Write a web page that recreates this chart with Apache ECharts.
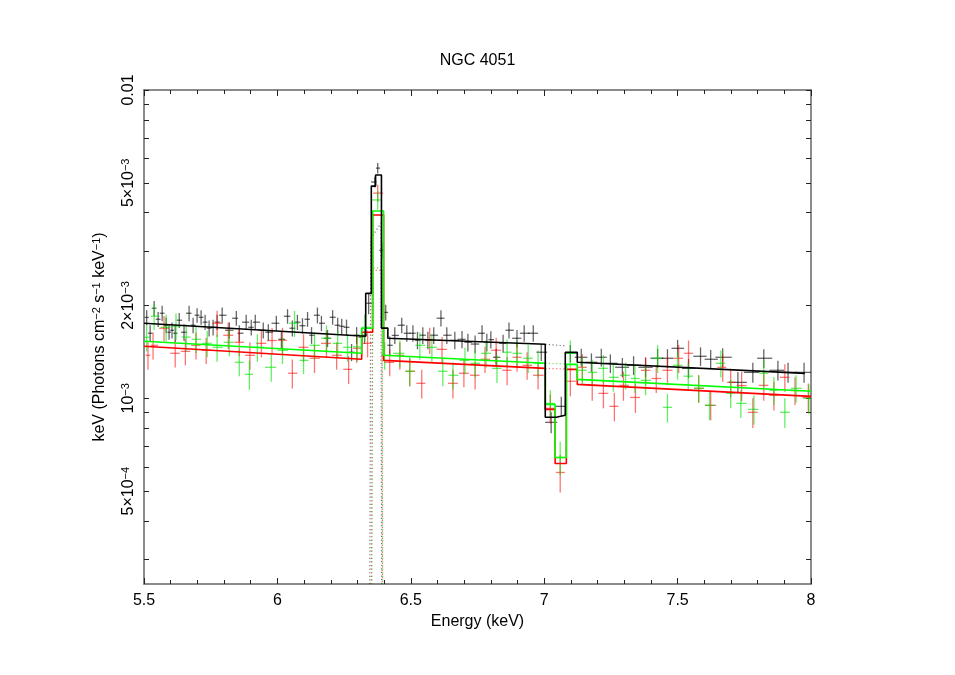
<!DOCTYPE html>
<html>
<head>
<meta charset="utf-8">
<title>NGC 4051</title>
<script src="https://cdn.jsdelivr.net/npm/echarts@6/dist/echarts.min.js"></script>
<style>
  html, body { margin: 0; padding: 0; background: #fff; }
  #chart { width: 955px; height: 675px; }
</style>
</head>
<body>
<div id="chart"></div>
<script>
// all fluxes in units of 1e-3 keV (Photons cm^-2 s^-1 keV^-1), energies in keV

// black spectrum (data points)
const blackE = [5.51, 5.523, 5.538, 5.553, 5.568, 5.583, 5.594, 5.605, 5.617, 5.632,
  5.650, 5.669, 5.684, 5.699, 5.714, 5.729, 5.744, 5.759, 5.774, 5.793,
  5.820, 5.846, 5.857, 5.883, 5.902, 5.917, 5.947, 5.966, 5.996, 6.015,
  6.038, 6.056, 6.075, 6.094, 6.113, 6.128, 6.150, 6.165, 6.188, 6.207,
  6.226, 6.241, 6.259, 6.278, 6.297, 6.316, 6.327, 6.342, 6.365, 6.376,
  6.391, 6.406, 6.421, 6.440, 6.466, 6.485, 6.508, 6.525, 6.545, 6.564,
  6.586, 6.613, 6.635, 6.665, 6.692, 6.714, 6.741, 6.767, 6.785, 6.800,
  6.820, 6.846, 6.868, 6.898, 6.925, 6.959, 6.989, 7.026, 7.064, 7.098,
  7.139, 7.177, 7.214, 7.248, 7.293, 7.335, 7.380, 7.425, 7.462, 7.500,
  7.541, 7.586, 7.624, 7.669, 7.726, 7.782, 7.823, 7.876, 7.914, 7.974];
const blackF = [1.83, 1.626, 1.96, 1.805, 1.888, 1.726, 1.638, 1.663, 1.626, 1.792,
  1.638, 1.888, 1.726, 1.860, 1.832, 1.766, 1.688, 1.700, 1.766, 1.860,
  1.663, 1.819, 1.626, 1.766, 1.700, 1.766, 1.663, 1.638, 1.752, 1.554,
  1.846, 1.688, 1.766, 1.720, 1.805, 1.602, 1.860, 1.752, 1.566, 1.832,
  1.726, 1.713, 1.700, 1.411, 1.602, 1.578, 1.602, 2.034, 5.03, 5.58,
  3.02, 1.90, 1.486, 1.600, 1.726, 1.626, 1.626, 1.543, 1.602, 1.543,
  1.602, 1.819, 1.602, 1.543, 1.554, 1.520, 1.500, 1.626, 1.520, 1.550,
  1.359, 1.508, 1.663, 1.566, 1.626, 1.626, 1.411, 0.836, 0.942, 1.400,
  1.359, 1.309, 1.359, 1.299, 1.261, 1.280, 1.261, 1.349, 1.349, 1.453,
  1.251, 1.369, 1.339, 1.359, 1.127, 1.214, 1.349, 1.233, 1.214, 1.214];
const blackErr = [0.10, 0.10, 0.11, 0.10, 0.11, 0.10, 0.09, 0.10, 0.10, 0.10,
  0.10, 0.11, 0.10, 0.10, 0.10, 0.10, 0.10, 0.10, 0.10, 0.11,
  0.10, 0.10, 0.10, 0.10, 0.10, 0.10, 0.10, 0.10, 0.10, 0.10,
  0.10, 0.10, 0.10, 0.10, 0.10, 0.10, 0.11, 0.10, 0.10, 0.10,
  0.10, 0.10, 0.10, 0.09, 0.10, 0.10, 0.10, 0.16, 0.20, 0.22,
  0.18, 0.11, 0.10, 0.10, 0.10, 0.10, 0.10, 0.10, 0.10, 0.10,
  0.10, 0.11, 0.10, 0.10, 0.10, 0.10, 0.10, 0.10, 0.10, 0.10,
  0.09, 0.10, 0.10, 0.10, 0.10, 0.10, 0.09, 0.065, 0.07, 0.09,
  0.09, 0.09, 0.09, 0.09, 0.09, 0.09, 0.09, 0.095, 0.095, 0.095,
  0.09, 0.095, 0.095, 0.095, 0.09, 0.09, 0.095, 0.09, 0.09, 0.09];

// red spectrum (data points)
const redE = [5.515, 5.534, 5.575, 5.617, 5.655, 5.695, 5.733, 5.774, 5.816, 5.857,
  5.897, 5.940, 5.980, 6.019, 6.056, 6.098, 6.139, 6.184, 6.222, 6.267,
  6.297, 6.338, 6.376, 6.421, 6.459, 6.496, 6.541, 6.571, 6.617, 6.658,
  6.699, 6.741, 6.778, 6.820, 6.861, 6.898, 6.936, 6.977, 7.023, 7.060,
  7.098, 7.143, 7.180, 7.222, 7.263, 7.297, 7.342, 7.380, 7.420, 7.462,
  7.504, 7.541, 7.579, 7.624, 7.669, 7.699, 7.740, 7.782, 7.823, 7.861,
  7.902, 7.940, 7.990];
const redF = [1.379, 1.486, 1.688, 1.400, 1.420, 1.486, 1.432, 1.752, 1.602, 1.520,
  1.379, 1.508, 1.540, 1.543, 1.206, 1.464, 1.349, 1.508, 1.379, 1.242,
  1.453, 1.508, 4.63, 1.309, 1.379, 1.224, 1.119, 1.543, 1.442, 1.119,
  1.206, 1.188, 1.339, 1.432, 1.233, 1.359, 1.280, 1.188, 0.928, 0.575,
  1.136, 1.261, 1.102, 1.038, 0.942, 1.102, 1.007, 1.233, 1.160, 1.233,
  1.349, 1.400, 1.078, 0.949, 1.261, 1.127, 1.100, 0.901, 1.102, 1.023,
  1.170, 1.060, 1.007];
const redErr = [0.14, 0.15, 0.16, 0.14, 0.14, 0.15, 0.14, 0.17, 0.16, 0.15,
  0.14, 0.15, 0.15, 0.15, 0.13, 0.15, 0.14, 0.15, 0.14, 0.13,
  0.15, 0.15, 0.30, 0.13, 0.14, 0.13, 0.12, 0.15, 0.14, 0.12,
  0.12, 0.12, 0.13, 0.14, 0.13, 0.14, 0.13, 0.12, 0.10, 0.08,
  0.12, 0.13, 0.12, 0.11, 0.10, 0.12, 0.11, 0.13, 0.12, 0.13,
  0.14, 0.14, 0.11, 0.10, 0.13, 0.12, 0.12, 0.10, 0.12, 0.11,
  0.12, 0.11, 0.11];

// green spectrum (data points)
const greenE = [5.51, 5.538, 5.583, 5.620, 5.658, 5.695, 5.737, 5.774, 5.820, 5.857,
  5.895, 5.925, 5.977, 6.019, 6.064, 6.098, 6.139, 6.184, 6.226, 6.263,
  6.300, 6.327, 6.376, 6.402, 6.459, 6.496, 6.534, 6.579, 6.620, 6.658,
  6.703, 6.741, 6.782, 6.823, 6.861, 6.898, 6.940, 6.977, 7.023, 7.060,
  7.098, 7.143, 7.180, 7.222, 7.259, 7.305, 7.340, 7.380, 7.425, 7.462,
  7.500, 7.540, 7.579, 7.620, 7.662, 7.699, 7.737, 7.786, 7.823, 7.861,
  7.902, 7.944, 7.992];
const greenF = [1.578, 1.846, 1.700, 1.713, 1.580, 1.554, 1.508, 1.464, 1.520, 1.309,
  1.196, 1.464, 1.261, 1.432, 1.752, 1.328, 1.486, 1.566, 1.508, 1.464,
  1.470, 1.700, 4.40, 1.379, 1.400, 1.224, 1.486, 1.464, 1.224, 1.188,
  1.328, 1.299, 1.400, 1.251, 1.411, 1.400, 1.349, 1.299, 0.963, 0.643,
  1.400, 1.233, 1.214, 1.251, 1.170, 1.188, 1.160, 1.144, 1.349, 0.935,
  1.280, 1.180, 1.078, 0.949, 1.299, 1.038, 0.963, 0.921, 1.206, 1.062,
  0.901, 1.078, 1.000];
const greenErr = [0.16, 0.18, 0.17, 0.17, 0.16, 0.15, 0.15, 0.15, 0.15, 0.13,
  0.13, 0.15, 0.13, 0.14, 0.17, 0.13, 0.15, 0.16, 0.15, 0.15,
  0.15, 0.17, 0.30, 0.14, 0.14, 0.13, 0.15, 0.15, 0.13, 0.12,
  0.13, 0.13, 0.14, 0.13, 0.14, 0.14, 0.14, 0.13, 0.10, 0.08,
  0.14, 0.13, 0.12, 0.13, 0.12, 0.12, 0.12, 0.12, 0.14, 0.10,
  0.13, 0.12, 0.11, 0.10, 0.13, 0.11, 0.10, 0.10, 0.12, 0.11,
  0.10, 0.11, 0.11];

// folded models (step outlines)
const blackModelE = [5.5, 6.331, 6.331, 6.352, 6.352, 6.368, 6.368, 6.390, 6.390, 6.414, 6.414,
  7.004, 7.004, 7.045, 7.045, 7.079, 7.079, 7.124, 7.124, 7.977];
const blackModelF = [1.752, 1.59, 2.19, 2.19, 4.88, 4.88, 5.30, 5.30, 1.69, 1.69, 1.566,
  1.497, 0.868, 0.868, 0.881, 0.881, 1.411, 1.411, 1.309, 1.205];
const redModelE = [5.5, 6.316, 6.316, 6.357, 6.357, 6.398, 6.398, 7.004, 7.004, 7.041, 7.041,
  7.083, 7.083, 7.124, 7.124, 8.0];
const redModelF = [1.475, 1.339, 1.638, 1.638, 3.93, 3.93, 1.328, 1.251, 0.921, 0.921, 0.615,
  0.615, 1.242, 1.242, 1.110, 1.015];
const greenModelE = [5.5, 6.316, 6.316, 6.357, 6.357, 6.398, 6.398, 7.004, 7.004, 7.041, 7.041,
  7.083, 7.083, 7.124, 7.124, 8.0];
const greenModelF = [1.531, 1.400, 1.688, 1.688, 4.05, 4.05, 1.379, 1.299, 0.956, 0.956, 0.643,
  0.643, 1.289, 1.289, 1.152, 1.054];

// model components (dotted): Fe K line and the continuum across the edge
const blackLineE = [6.336, 6.350, 6.388, 6.398];
const blackLineF = [0.0001, 3.3, 3.7, 0.0001];
const redLineE = [6.338, 6.357, 6.392, 6.400];
const redLineF = [0.0001, 2.6, 2.6, 0.0001];
const greenLineE = [6.340, 6.358, 6.393, 6.401];
const greenLineF = [0.0001, 2.65, 2.65, 0.0001];
const blackContE = [7.004, 7.080];
const blackContF = [1.497, 1.48];
const redContE = [7.004, 7.083];
const redContF = [1.251, 1.245];
const greenContE = [7.004, 7.083];
const greenContF = [1.299, 1.294];

// axis ticks
const yTickF = [0.3, 0.4, 0.5, 0.6, 0.7, 0.8, 0.9, 1, 2, 3, 4, 5, 6, 7, 8, 9, 10];
const yLabelF = [0.5, 1, 2, 5, 10];
const yLabelText = ['{a|5×10}{s|−4}', '{a|10}{s|−3}', '{a|2×10}{s|−3}', '{a|5×10}{s|−3}', '{a|0.01}'];

const lg = v => Math.log10(v * 1e-3);
const yMin = Math.log10(2.5e-4);
const yMax = -2;
const FONT = 'Liberation Sans, Arial, Helvetica, sans-serif';
const DOTS = [1.2, 2.4];

function crossData(E, F, Err, k) {
  return E.map((e, i) => {
    const gl = i > 0 ? e - E[i - 1] : E[i + 1] - e;
    const gr = i < E.length - 1 ? E[i + 1] - e : gl;
    return [e, lg(F[i]), lg(F[i] - Err[i]), lg(F[i] + Err[i]), e - gl * k, e + gr * k];
  });
}

function crossSeries(name, E, F, Err, k, color, z) {
  return {
    name: name,
    type: 'custom',
    clip: true,
    silent: true,
    z: z,
    data: crossData(E, F, Err, k),
    encode: { x: [0, 4, 5], y: [1, 2, 3] },
    renderItem: function (params, api) {
      const c = api.coord([api.value(0), api.value(1)]);
      const l = api.coord([api.value(4), api.value(1)]);
      const r = api.coord([api.value(5), api.value(1)]);
      const lo = api.coord([api.value(0), api.value(2)]);
      const hi = api.coord([api.value(0), api.value(3)]);
      return {
        type: 'group',
        children: [
          { type: 'line', shape: { x1: l[0], y1: c[1], x2: r[0], y2: c[1] }, style: { stroke: color, lineWidth: 1.3 } },
          { type: 'line', shape: { x1: c[0], y1: lo[1], x2: c[0], y2: hi[1] }, style: { stroke: color, lineWidth: 1.3 } }
        ]
      };
    }
  };
}

function lineSeries(name, E, F, color, width, dash, z) {
  return {
    name: name,
    type: 'line',
    data: E.map((e, i) => [e, lg(F[i])]),
    symbol: 'none',
    clip: true,
    silent: true,
    z: z,
    lineStyle: { color: color, width: width, type: dash }
  };
}

const tickStyle = { show: true, inside: true, length: 5, lineStyle: { color: '#222', width: 1 } };
const axisLineStyle = { show: true, lineStyle: { color: '#666', width: 1.5 } };
const supRich = {
  a: { fontFamily: FONT, fontSize: 16, color: '#000', lineHeight: 18 },
  s: { fontFamily: FONT, fontSize: 11, color: '#000', lineHeight: 12, verticalAlign: 'top' }
};

const chart = echarts.init(document.getElementById('chart'));
chart.setOption({
  animation: false,
  backgroundColor: '#fff',
  title: {
    text: 'NGC 4051',
    left: 'center',
    top: 48,
    textStyle: { fontFamily: FONT, fontSize: 16, fontWeight: 'normal', color: '#000' }
  },
  grid: { left: 144, right: 144, top: 90, bottom: 91 },
  xAxis: [
    {
      type: 'value', min: 5.5, max: 8, interval: 0.5,
      name: 'Energy (keV)', nameLocation: 'middle', nameGap: 23,
      nameTextStyle: { fontFamily: FONT, fontSize: 16, color: '#000' },
      axisLine: axisLineStyle,
      axisTick: { show: true, inside: true, length: 6, lineStyle: { color: '#222', width: 1 } },
      minorTick: { show: true, splitNumber: 5, length: 4, lineStyle: { color: '#222', width: 1 } },
      axisLabel: { fontFamily: FONT, fontSize: 16, color: '#000', margin: 9,
        formatter: v => (Math.round(v * 10) / 10).toString() },
      splitLine: { show: false }
    },
    {
      type: 'value', min: 5.5, max: 8, interval: 0.5, position: 'top',
      axisLine: axisLineStyle,
      axisTick: { show: true, inside: true, length: 6, lineStyle: { color: '#222', width: 1 } },
      minorTick: { show: true, splitNumber: 5, length: 4, lineStyle: { color: '#222', width: 1 } },
      axisLabel: { show: false },
      splitLine: { show: false }
    }
  ],
  yAxis: [
    {
      type: 'value', min: yMin, max: yMax,
      name: '{a|keV (Photons cm}{s|−2}{a| s}{s|−1}{a| keV}{s|−1}{a|)}',
      nameLocation: 'middle', nameGap: 35,
      nameTextStyle: { fontFamily: FONT, color: '#000', rich: supRich },
      axisLine: axisLineStyle,
      axisTick: Object.assign({ customValues: yTickF.map(lg) }, tickStyle),
      axisLabel: {
        rotate: 90, margin: 6,
        customValues: yLabelF.map(lg),
        formatter: function (v) {
          const i = yLabelF.findIndex(f => Math.abs(lg(f) - v) < 1e-6);
          return i >= 0 ? yLabelText[i] : '';
        },
        rich: supRich
      },
      splitLine: { show: false }
    },
    {
      type: 'value', min: yMin, max: yMax, position: 'right',
      axisLine: axisLineStyle,
      axisTick: Object.assign({ customValues: yTickF.map(lg) }, tickStyle),
      axisLabel: { show: false },
      splitLine: { show: false }
    }
  ],
  series: [
    crossSeries('black data', blackE, blackF, blackErr, 0.6, 'rgba(0,0,0,0.6)', 2),
    crossSeries('red data', redE, redF, redErr, 0.45, 'rgba(255,0,0,0.55)', 3),
    crossSeries('green data', greenE, greenF, greenErr, 0.45, 'rgba(0,225,0,0.6)', 4),
    lineSeries('black line', blackLineE, blackLineF, 'rgba(0,0,0,0.55)', 1.2, DOTS, 5),
    lineSeries('red line', redLineE, redLineF, 'rgba(255,0,0,0.6)', 1.2, DOTS, 5),
    lineSeries('green line', greenLineE, greenLineF, 'rgba(0,200,0,0.6)', 1.2, DOTS, 5),
    lineSeries('black cont', blackContE, blackContF, 'rgba(0,0,0,0.55)', 1.2, DOTS, 5),
    lineSeries('red cont', redContE, redContF, 'rgba(255,0,0,0.6)', 1.2, DOTS, 5),
    lineSeries('green cont', greenContE, greenContF, 'rgba(0,200,0,0.6)', 1.2, DOTS, 5),
    lineSeries('red model', redModelE, redModelF, '#ff0000', 1.6, 'solid', 6),
    lineSeries('green model', greenModelE, greenModelF, '#00ff00', 1.6, 'solid', 7),
    lineSeries('black model', blackModelE, blackModelF, '#000000', 1.6, 'solid', 8)
  ]
});
</script>
</body>
</html>
